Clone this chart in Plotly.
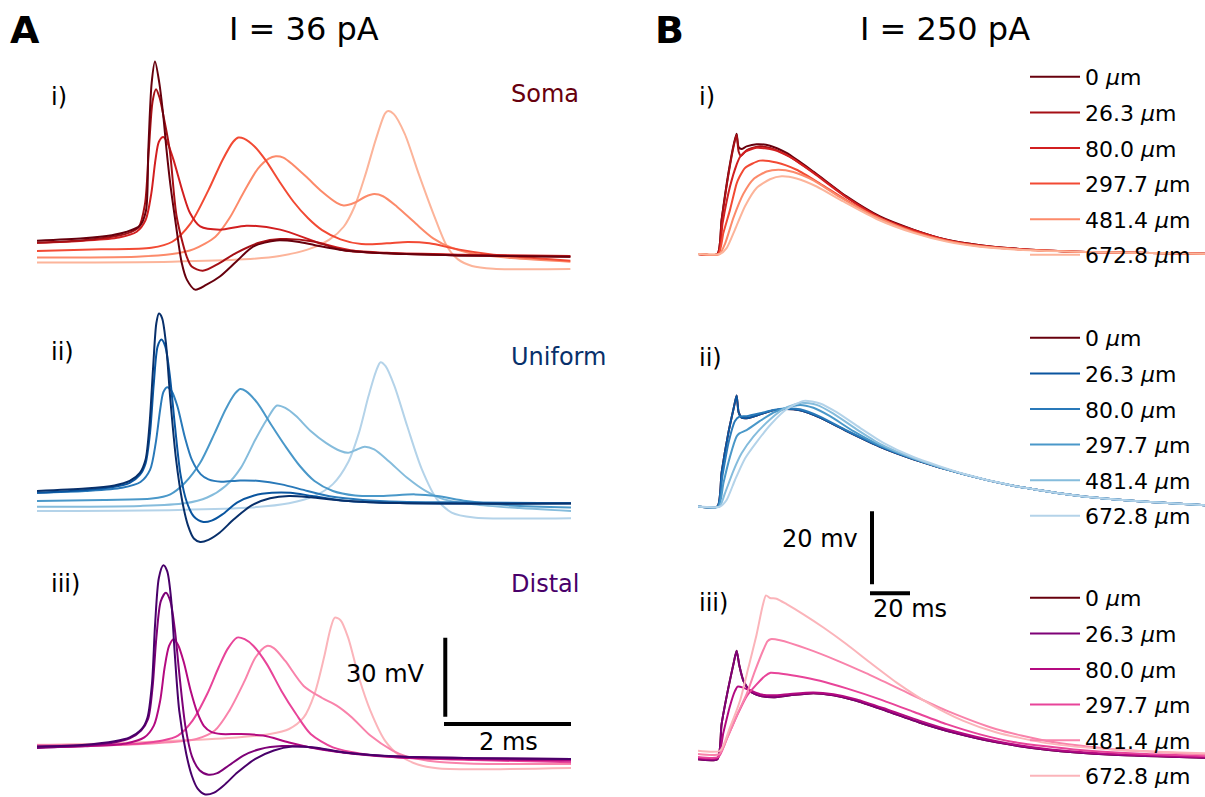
import plotly.graph_objects as go

W, H = 1205, 797
FONT = "DejaVu Sans"

# ---------------- data: I = 36 pA (time in ms, membrane potential in mV) ----------------
soma_t_0 = [0, 0.73, 1.18, 1.40, 1.62, 1.716, 1.753, 1.806, 1.858, 1.926, 1.99, 2.04, 2.10, 2.17, 2.28, 2.36, 2.49, 2.67, 2.88, 3.14, 3.41, 3.77, 4.10, 4.38, 4.83, 5.51, 6.63, 8.40]
soma_v_0 = [-58.9, -58.0, -56.8, -55.6, -53.2, -47.5, -24.4, 1.1, 9.2, 1.1, -11.7, -24.4, -37.5, -49.8, -67.4, -73.7, -77.5, -75.6, -72.5, -66.8, -61.1, -58.8, -59.3, -60.6, -62.5, -63.7, -64.5, -65.0]
soma_t_26 = [0, 0.73, 1.18, 1.40, 1.60, 1.70, 1.76, 1.82, 1.874, 1.93, 2.00, 2.09, 2.20, 2.357, 2.436, 2.61, 2.88, 3.14, 3.51, 3.83, 4.35, 4.83, 5.51, 6.63, 8.40]
soma_v_26 = [-59.7, -58.7, -57.4, -56.3, -53.8, -45.0, -25.0, -6.0, -1.3, -4.5, -12.5, -24.4, -49.8, -64.9, -68.7, -70.3, -67.3, -63.5, -59.6, -58.3, -59.2, -62.5, -63.7, -64.5, -65.0]
soma_t_80 = [0, 0.73, 1.29, 1.57, 1.71, 1.80, 1.865, 1.92, 1.99, 2.06, 2.15, 2.30, 2.41, 2.57, 2.88, 3.30, 3.83, 4.46, 4.94, 5.51, 6.63, 8.40]
soma_v_80 = [-59.7, -58.9, -57.7, -55.5, -51.1, -41.0, -28.3, -21.3, -19.5, -22.0, -28.2, -40.8, -48.4, -53.5, -54.7, -53.2, -54.7, -59.8, -62.5, -63.5, -64.2, -64.7]
soma_t_297 = [0, 1.01, 1.80, 2.13, 2.42, 2.70, 2.92, 3.09, 3.17, 3.26, 3.43, 3.60, 3.82, 4.04, 4.27, 4.49, 4.78, 5.11, 5.51, 5.84, 6.18, 6.63, 7.19, 8.40]
soma_v_297 = [-62.8, -62.2, -61.6, -59.3, -52.3, -39.7, -28.3, -21.3, -19.7, -20.1, -23.2, -28.3, -36.5, -44.1, -50.4, -54.9, -58.4, -60.2, -59.9, -59.4, -59.9, -62.2, -64.2, -66.5]
soma_t_481 = [0, 1.57, 2.13, 2.47, 2.81, 3.03, 3.26, 3.48, 3.65, 3.76, 3.88, 4.04, 4.27, 4.49, 4.72, 4.83, 5.00, 5.17, 5.31, 5.45, 5.67, 5.96, 6.24, 6.52, 6.91, 7.47, 8.40]
soma_v_481 = [-65.3, -65.0, -64.0, -62.1, -57.4, -50.4, -40.3, -31.5, -27.7, -26.8, -27.3, -30.2, -35.3, -40.3, -44.5, -45.5, -44.5, -42.2, -41.2, -42.0, -46.0, -52.3, -58.0, -61.5, -64.0, -65.5, -66.9]
soma_t_672 = [0, 2.13, 3.26, 3.82, 4.27, 4.61, 4.83, 5.00, 5.17, 5.34, 5.48, 5.53, 5.62, 5.79, 6.01, 6.24, 6.46, 6.63, 6.85, 7.19, 7.75, 8.40]
soma_v_672 = [-67.2, -66.9, -66.0, -64.7, -62.2, -58.4, -53.6, -46.0, -34.0, -20.1, -10.6, -9.6, -10.8, -18.2, -33.4, -48.5, -61.2, -66.0, -68.5, -69.6, -69.8, -69.7]

unif_t_0 = [0, 0.76, 1.22, 1.46, 1.62, 1.71, 1.77, 1.83, 1.88, 1.92, 1.97, 2.03, 2.10, 2.19, 2.29, 2.38, 2.47, 2.57, 2.70, 2.88, 3.10, 3.38, 3.67, 3.97, 4.31, 4.84, 5.71, 8.41]
unif_v_0 = [-60.3, -59.4, -58.2, -56.5, -53.4, -48.3, -35.6, -12.8, 3.6, 7.2, 5.5, -4.0, -25.5, -48.3, -64.5, -73.6, -78.4, -79.7, -78.9, -76.1, -71.1, -65.8, -63.1, -62.2, -62.7, -64.0, -64.9, -65.1]
unif_t_26 = [0, 0.76, 1.22, 1.46, 1.62, 1.71, 1.78, 1.84, 1.90, 1.96, 2.02, 2.09, 2.17, 2.26, 2.36, 2.47, 2.62, 2.75, 2.92, 3.15, 3.42, 3.70, 3.99, 4.33, 4.84, 5.71, 8.41]
unif_v_26 = [-61.0, -59.9, -58.7, -57.2, -54.2, -49.8, -38.2, -19.2, -5.3, -2.7, -5.3, -16.0, -35.0, -54.0, -64.6, -70.0, -72.1, -71.6, -69.2, -64.7, -62.0, -61.0, -61.0, -62.2, -64.0, -64.9, -65.0]
unif_t_80 = [0, 0.76, 1.34, 1.63, 1.78, 1.87, 1.94, 1.99, 2.05, 2.12, 2.21, 2.33, 2.44, 2.58, 2.70, 2.90, 3.20, 3.50, 3.85, 4.26, 4.66, 5.13, 5.71, 6.88, 8.41]
unif_v_80 = [-61.0, -60.3, -59.1, -56.9, -52.3, -42.0, -29.3, -22.7, -20.8, -22.3, -28.0, -40.0, -48.5, -54.0, -55.9, -56.8, -56.3, -56.5, -57.8, -60.3, -62.5, -63.7, -64.4, -64.7, -65.0]
unif_t_297 = [0, 1.05, 1.81, 2.10, 2.33, 2.57, 2.80, 2.97, 3.12, 3.20, 3.29, 3.47, 3.67, 3.91, 4.14, 4.37, 4.66, 5.01, 5.42, 5.95, 6.30, 6.76, 7.46, 8.41]
unif_v_297 = [-64.1, -63.7, -63.2, -61.6, -57.2, -49.6, -38.2, -29.3, -23.2, -21.5, -22.3, -26.8, -34.4, -43.2, -50.8, -56.5, -60.3, -62.0, -62.2, -61.6, -62.2, -64.1, -65.8, -66.6]
unif_t_481 = [0, 1.63, 2.33, 2.68, 2.97, 3.21, 3.44, 3.62, 3.78, 3.91, 4.08, 4.31, 4.55, 4.78, 4.90, 5.04, 5.16, 5.31, 5.54, 5.83, 6.12, 6.41, 6.88, 7.46, 8.41]
unif_v_481 = [-66.3, -66.0, -65.0, -62.8, -58.4, -51.5, -40.7, -33.1, -27.8, -28.7, -31.8, -37.5, -42.0, -45.1, -45.8, -44.5, -43.5, -44.5, -49.0, -55.3, -60.3, -63.5, -65.4, -66.6, -67.9]
unif_t_672 = [0, 2.22, 3.38, 3.97, 4.37, 4.66, 4.90, 5.07, 5.22, 5.34, 5.41, 5.49, 5.63, 5.83, 6.06, 6.30, 6.53, 6.88, 7.46, 8.41]
unif_v_672 = [-67.9, -67.5, -66.6, -65.0, -62.2, -57.7, -49.4, -38.2, -24.3, -14.7, -11.3, -12.8, -20.4, -35.6, -52.0, -63.5, -68.5, -70.4, -70.8, -70.7]

dist_t_0 = [0, 0.76, 1.22, 1.46, 1.65, 1.74, 1.81, 1.86, 1.92, 1.99, 2.05, 2.11, 2.17, 2.24, 2.35, 2.44, 2.53, 2.65, 2.79, 2.94, 3.16, 3.44, 3.73, 4.02, 4.37, 4.84, 5.71, 6.88, 8.41]
dist_v_0 = [-60.3, -59.6, -58.3, -56.8, -53.6, -49.2, -36.5, -13.7, 4.0, 8.7, 6.5, -3.6, -25.1, -46.6, -63.0, -71.5, -76.3, -78.5, -77.8, -75.1, -70.1, -65.0, -61.8, -60.3, -60.6, -62.5, -64.1, -64.7, -65.0]
dist_t_26 = [0, 0.76, 1.22, 1.46, 1.64, 1.75, 1.82, 1.88, 1.95, 2.03, 2.10, 2.17, 2.25, 2.34, 2.44, 2.56, 2.70, 2.84, 3.02, 3.25, 3.52, 3.86, 4.20, 4.84, 5.71, 6.88, 8.41]
dist_v_26 = [-60.8, -59.9, -58.7, -57.2, -54.2, -49.8, -37.8, -18.8, -4.9, -1.7, -4.9, -15.6, -34.6, -53.0, -64.0, -69.3, -71.0, -70.4, -67.5, -63.7, -61.2, -60.1, -60.3, -62.5, -64.1, -64.7, -65.0]
dist_t_80 = [0, 0.76, 1.40, 1.69, 1.84, 1.94, 2.01, 2.08, 2.15, 2.22, 2.31, 2.42, 2.52, 2.63, 2.75, 2.90, 3.20, 3.56, 3.97, 4.43, 5.01, 5.71, 6.88, 8.41]
dist_v_80 = [-60.6, -60.2, -59.1, -56.8, -52.3, -42.8, -30.2, -22.0, -19.4, -21.5, -28.0, -39.0, -47.0, -52.5, -54.8, -55.5, -55.5, -56.1, -58.7, -61.2, -63.1, -64.4, -65.1, -65.6]
dist_t_297 = [0, 1.05, 1.63, 1.98, 2.22, 2.45, 2.68, 2.86, 3.00, 3.15, 3.27, 3.41, 3.62, 3.85, 4.08, 4.31, 4.66, 5.13, 5.71, 6.88, 8.41]
dist_v_297 = [-59.9, -59.6, -59.1, -58.0, -56.1, -50.4, -40.3, -30.2, -23.2, -18.8, -19.4, -22.0, -28.9, -39.1, -47.9, -55.5, -60.6, -63.1, -64.4, -65.4, -66.3]
dist_t_481 = [0, 1.92, 2.51, 2.80, 3.03, 3.27, 3.44, 3.62, 3.73, 3.91, 4.20, 4.49, 4.72, 4.96, 5.25, 5.60, 5.83, 6.30, 6.88, 8.41]
dist_v_481 = [-60.6, -58.9, -57.4, -54.2, -46.6, -35.3, -26.4, -22.0, -22.8, -27.7, -37.2, -41.8, -44.7, -49.2, -56.1, -61.8, -64.1, -66.1, -66.8, -66.9]
dist_t_672 = [0, 1.05, 2.22, 3.15, 3.67, 3.97, 4.20, 4.37, 4.52, 4.62, 4.69, 4.78, 4.90, 5.07, 5.25, 5.48, 5.71, 6.01, 6.30, 6.88, 8.41]
dist_v_672 = [-59.6, -59.1, -58.0, -56.8, -55.5, -53.6, -49.2, -40.3, -26.4, -15.6, -11.2, -12.2, -18.8, -34.0, -46.6, -58.0, -63.7, -67.2, -68.5, -68.9, -68.4]

# ---------------- data: I = 250 pA ----------------
r1_t_0 = [0, 9.7, 11.8, 15.2, 18.0, 19.3, 20.3, 21.8, 24.3, 29.3, 36.0, 44.3, 57.7, 74.3, 91.0, 107.7, 124.3, 141.0, 166.0, 199.3, 253.5]
r1_v_0 = [-65, -65, -55.6, -42.8, -34.6, -32.0, -35.7, -36.2, -35.5, -34.9, -35.3, -37.3, -42.4, -49.2, -54.7, -58.3, -61.1, -62.6, -63.8, -64.5, -64.9]
r1_t_26 = [0, 9.7, 11.8, 15.2, 18.0, 19.3, 20.3, 21.5, 24.3, 30.2, 36.0, 44.3, 57.7, 74.3, 91.0, 107.7, 124.3, 141.0, 166.0, 199.3, 253.5]
r1_v_26 = [-65, -65, -55.8, -43.3, -35.0, -32.3, -36.9, -38.1, -36.6, -35.5, -35.9, -37.8, -42.6, -49.4, -54.9, -58.4, -61.1, -62.6, -63.8, -64.5, -64.9]
r1_t_80 = [0, 10.0, 12.3, 16.0, 19.3, 21.0, 23.5, 29.3, 37.7, 46.0, 57.7, 74.3, 91.0, 107.7, 124.3, 141.0, 166.0, 199.3, 253.5]
r1_v_80 = [-65, -65, -56.5, -46.5, -40.5, -38.4, -37.0, -35.9, -36.4, -38.4, -42.8, -49.5, -55.0, -58.5, -61.2, -62.7, -63.8, -64.5, -64.9]
r1_t_297 = [0, 10.2, 12.7, 16.0, 19.3, 20.7, 23.5, 31.0, 39.3, 49.3, 61.0, 74.3, 91.0, 107.7, 124.3, 141.0, 166.0, 199.3, 253.5]
r1_v_297 = [-65, -65, -59.2, -52.9, -45.7, -43.9, -41.4, -39.4, -39.9, -41.9, -45.7, -50.3, -55.3, -58.8, -61.3, -62.8, -63.9, -64.5, -64.9]
r1_t_481 = [0, 10.7, 13.5, 17.7, 22.7, 27.7, 34.3, 40.2, 47.7, 57.7, 71.0, 87.7, 107.7, 124.3, 141.0, 166.0, 199.3, 253.5]
r1_v_481 = [-65, -65, -62.2, -55.1, -48.5, -44.5, -42.4, -41.9, -42.5, -44.8, -49.4, -54.5, -59.0, -61.4, -62.9, -63.9, -64.5, -64.9]
r1_t_672 = [0, 11.0, 14.3, 18.5, 23.5, 29.3, 36.0, 41.8, 49.3, 59.3, 72.7, 89.3, 107.7, 124.3, 141.0, 166.0, 199.3, 253.5]
r1_v_672 = [-65, -65, -63.4, -58.3, -51.9, -46.9, -44.5, -43.7, -44.3, -46.5, -50.6, -55.4, -59.2, -61.6, -63.0, -64.0, -64.5, -64.9]

r2_t_26 = [0, 9.7, 11.8, 15.2, 18.0, 19.3, 20.3, 21.8, 25.2, 31.0, 37.7, 43.5, 51.0, 61.0, 74.3, 91.0, 107.7, 132.7, 157.7, 191.0, 224.3, 253.5]
r2_v_26 = [-65, -65, -55.7, -44.7, -37.6, -34.5, -39.1, -40.6, -40.7, -39.7, -38.6, -38.2, -38.6, -40.6, -44.3, -48.6, -52.0, -56.1, -59.3, -62.1, -63.7, -64.6]
r2_t_80 = [0, 9.8, 12.2, 15.2, 18.5, 20.7, 24.3, 31.0, 37.7, 43.5, 51.0, 61.0, 74.3, 91.0, 107.7, 132.7, 157.7, 191.0, 224.3, 253.5]
r2_v_80 = [-65, -65, -56.6, -47.6, -41.5, -40.3, -40.2, -39.4, -38.5, -38.1, -38.3, -40.3, -44.1, -48.4, -51.9, -56.1, -59.3, -62.1, -63.7, -64.6]
r2_t_297 = [0, 10.2, 12.7, 16.0, 19.3, 20.7, 24.3, 31.0, 37.7, 43.5, 51.0, 57.7, 66.0, 77.7, 91.0, 107.7, 132.7, 157.7, 191.0, 224.3, 253.5]
r2_v_297 = [-65, -65, -58.6, -51.3, -45.8, -44.9, -44.0, -41.5, -39.2, -38.0, -37.1, -37.9, -40.2, -44.3, -48.2, -51.8, -56.1, -59.3, -62.1, -63.7, -64.6]
r2_t_481 = [0, 10.7, 13.5, 17.7, 21.8, 27.7, 36.0, 43.5, 51.8, 59.3, 67.7, 79.3, 91.0, 107.7, 132.7, 157.7, 191.0, 224.3, 253.5]
r2_v_481 = [-65, -65, -61.3, -55.2, -50.4, -45.8, -41.1, -38.0, -36.5, -37.1, -39.5, -43.8, -47.8, -51.7, -56.1, -59.3, -62.1, -63.7, -64.6]
r2_t_672 = [0, 11.0, 14.3, 18.5, 23.5, 29.3, 36.8, 44.3, 53.0, 61.0, 69.3, 81.0, 92.7, 107.7, 132.7, 157.7, 191.0, 224.3, 253.5]
r2_v_672 = [-65, -65, -63.2, -57.7, -51.8, -47.3, -42.2, -38.3, -36.0, -36.7, -39.1, -43.4, -47.5, -51.4, -56.0, -59.3, -62.1, -63.7, -64.6]

r3_t_26 = [0, 9.7, 11.8, 15.2, 17.7, 19.3, 20.7, 22.7, 26.0, 31.0, 37.7, 46.0, 57.7, 67.7, 79.3, 94.3, 111.0, 127.7, 149.3, 174.3, 207.7, 253.5]
r3_v_26 = [-65, -65, -55.4, -45.4, -39.0, -35.3, -39.4, -43.5, -46.3, -47.6, -48.0, -47.5, -46.9, -47.5, -49.0, -51.8, -55.0, -57.7, -60.4, -62.4, -63.8, -64.6]
r3_t_80 = [0, 9.8, 12.7, 16.0, 18.5, 19.8, 22.7, 26.0, 31.0, 37.7, 46.0, 57.7, 67.7, 79.3, 94.3, 111.0, 127.7, 149.3, 174.3, 207.7, 253.5]
r3_v_80 = [-64.7, -64.7, -57.7, -50.4, -46.3, -45.1, -45.4, -46.1, -47.2, -47.5, -47.1, -46.7, -47.2, -48.6, -51.3, -54.5, -57.3, -60.1, -62.2, -63.6, -64.5]
r3_t_297 = [0, 10.2, 14.3, 19.3, 24.3, 29.3, 33.5, 36.3, 41.0, 49.3, 61.0, 74.3, 91.0, 107.7, 124.3, 141.0, 157.7, 191.0, 224.3, 253.5]
r3_v_297 = [-64.4, -64.4, -59.5, -53.3, -47.8, -44.5, -42.2, -41.3, -41.5, -42.2, -43.5, -45.6, -48.6, -52.0, -55.4, -58.2, -60.3, -62.5, -63.6, -64.1]
r3_t_481 = [0, 10.7, 15.2, 20.2, 24.3, 28.5, 32.7, 34.7, 36.3, 41.0, 54.3, 69.3, 84.3, 104.3, 124.3, 149.3, 174.3, 207.7, 253.5]
r3_v_481 = [-63.6, -63.6, -58.4, -52.0, -47.2, -40.8, -35.0, -32.7, -32.1, -32.4, -34.7, -37.9, -41.5, -46.7, -51.7, -56.8, -60.0, -62.3, -63.7]
r3_t_672 = [0, 11.0, 16.0, 21.0, 25.2, 29.3, 32.3, 34.0, 36.0, 39.3, 44.3, 52.7, 62.7, 74.3, 86.0, 99.3, 116.0, 132.7, 149.3, 174.3, 207.7, 253.5]
r3_v_672 = [-62.7, -62.7, -56.3, -49.0, -39.9, -30.8, -23.0, -20.1, -20.8, -21.0, -22.5, -25.3, -28.9, -33.5, -38.5, -44.0, -49.9, -54.5, -57.7, -60.6, -62.4, -63.4]

distances = ["0", "26.3", "80.0", "297.7", "481.4", "672.8"]

reds = ["#67000d", "#a50f15", "#d21f20", "#f24a34", "#fc8a6a", "#fcb49a"]
blues = ["#08306b", "#0a559f", "#2979b9", "#4a98c9", "#85bcdc", "#b4d3e9"]
rdpu = ["#49006a", "#7e0177", "#b40a80", "#e84499", "#f983ab", "#fbb4ba"]
legend_first = "#67000d"

# scale bars (data units)
bar_a = dict(t0=6.41, v0=-51.7, dt=2.0, dv=30.0, tv=6.43, vv0=-48.9)
bar_b = dict(th0=86.0, vh=-88.8, dt=20.0, tv=87.0, vv0=-86.3, dv=20.0)

# ---------------- figure ----------------
fig = go.Figure()

def add(t, v, color, xa, ya, name=None, legend=None, group=None, smooth=0.8):
    fig.add_trace(go.Scatter(
        x=t, y=v, mode="lines", xaxis=xa, yaxis=ya,
        line=dict(color=color, width=2, shape="spline", smoothing=smooth),
        name=name if name else "", showlegend=legend is not None,
        legend=legend if legend else "legend", legendgroup=group,
        hoverinfo="skip"))

left_sets = [
    ("x", "y", reds, [(soma_t_0, soma_v_0), (soma_t_26, soma_v_26), (soma_t_80, soma_v_80),
                      (soma_t_297, soma_v_297), (soma_t_481, soma_v_481), (soma_t_672, soma_v_672)]),
    ("x3", "y3", blues, [(unif_t_0, unif_v_0), (unif_t_26, unif_v_26), (unif_t_80, unif_v_80),
                         (unif_t_297, unif_v_297), (unif_t_481, unif_v_481), (unif_t_672, unif_v_672)]),
    ("x5", "y5", rdpu, [(dist_t_0, dist_v_0), (dist_t_26, dist_v_26), (dist_t_80, dist_v_80),
                        (dist_t_297, dist_v_297), (dist_t_481, dist_v_481), (dist_t_672, dist_v_672)]),
]
for xa, ya, cols, series in left_sets:
    for i in reversed(range(6)):
        add(series[i][0], series[i][1], cols[i], xa, ya)

right_sets = [
    ("x2", "y2", "legend", reds, [(r1_t_0, r1_v_0), (r1_t_26, r1_v_26), (r1_t_80, r1_v_80),
                                  (r1_t_297, r1_v_297), (r1_t_481, r1_v_481), (r1_t_672, r1_v_672)]),
    ("x4", "y4", "legend2", [legend_first] + blues[1:], [(r2_t_26, r2_v_26), (r2_t_26, r2_v_26), (r2_t_80, r2_v_80),
                                                         (r2_t_297, r2_v_297), (r2_t_481, r2_v_481), (r2_t_672, r2_v_672)]),
    ("x6", "y6", "legend3", [legend_first] + rdpu[1:], [(r3_t_26, r3_v_26), (r3_t_26, r3_v_26), (r3_t_80, r3_v_80),
                                                        (r3_t_297, r3_v_297), (r3_t_481, r3_v_481), (r3_t_672, r3_v_672)]),
]
for xa, ya, lg, cols, series in right_sets:
    for i in range(6):
        add(series[i][0], series[i][1], cols[i], xa, ya,
            name=f"{distances[i]} <i>μ</i>m", legend=lg, group=f"{lg}_{i}", smooth=0.6)

def bar(xs, ys, xa, ya):
    fig.add_trace(go.Scatter(x=xs, y=ys, mode="lines", line=dict(color="black", width=4),
                             xaxis=xa, yaxis=ya, showlegend=False, hoverinfo="skip"))

bar([bar_a["t0"], bar_a["t0"] + bar_a["dt"]], [bar_a["v0"], bar_a["v0"]], "x5", "y5")
bar([bar_a["tv"], bar_a["tv"]], [bar_a["vv0"], bar_a["vv0"] + bar_a["dv"]], "x5", "y5")
bar([bar_b["th0"], bar_b["th0"] + bar_b["dt"]], [bar_b["vh"], bar_b["vh"]], "x4", "y4")
bar([bar_b["tv"], bar_b["tv"]], [bar_b["vv0"], bar_b["vv0"] + bar_b["dv"]], "x4", "y4")

def pxx(p):
    return p / W

def pyy(p):
    return 1 - p / H

LEFT = [pxx(37), pxx(571)]
RIGHT = [pxx(698), 1.0]
ax = dict(visible=False, showgrid=False, zeroline=False, fixedrange=True)

fig.update_layout(
    width=W, height=H, margin=dict(l=0, r=0, t=0, b=0),
    paper_bgcolor="white", plot_bgcolor="rgba(0,0,0,0)",
    font=dict(family=FONT, size=24, color="black"),
    xaxis=dict(domain=LEFT, range=[0, 8.41], anchor="y", **ax),
    yaxis=dict(domain=[pyy(300), pyy(50)], range=[-81.3, 13.6], anchor="x", **ax),
    xaxis2=dict(domain=RIGHT, range=[0, 253.5], anchor="y2", **ax),
    yaxis2=dict(domain=[pyy(300), pyy(60)], range=[-77.5, -11.8], anchor="x2", **ax),
    xaxis3=dict(domain=LEFT, range=[0, 8.41], anchor="y3", **ax),
    yaxis3=dict(domain=[pyy(555), pyy(305)], range=[-84.4, 10.6], anchor="x3", **ax),
    xaxis4=dict(domain=RIGHT, range=[0, 253.5], anchor="y4", **ax),
    yaxis4=dict(domain=[pyy(620), pyy(320)], range=[-95.9, -13.7], anchor="x4", **ax),
    xaxis5=dict(domain=LEFT, range=[0, 8.41], anchor="y5", **ax),
    yaxis5=dict(domain=[pyy(797), pyy(555)], range=[-79.1, 12.9], anchor="x5", **ax),
    xaxis6=dict(domain=RIGHT, range=[0, 253.5], anchor="y6", **ax),
    yaxis6=dict(domain=[pyy(797), pyy(560)], range=[-75.1, -10.2], anchor="x6", **ax),
    showlegend=True,
)

leg_common = dict(xanchor="left", yanchor="top", bgcolor="rgba(0,0,0,0)",
                  font=dict(family=FONT, size=22, color="black"),
                  traceorder="grouped", tracegroupgap=4, itemwidth=50)
fig.update_layout(
    legend=dict(x=pxx(1025), y=pyy(56), **leg_common),
    legend2=dict(x=pxx(1025), y=pyy(317), **leg_common),
    legend3=dict(x=pxx(1025), y=pyy(578), **leg_common),
)

def note(text, x, y, xanchor="left", size=24, color="black"):
    fig.add_annotation(text=text, x=pxx(x), y=pyy(y), xref="paper", yref="paper",
                       xanchor=xanchor, yanchor="middle", showarrow=False,
                       font=dict(family=FONT, size=size, color=color))

note("<b>A</b>", 8, 30, size=38)
note("<b>B</b>", 653, 30, size=38)
note("I = 36 pA", 304, 29, xanchor="center", size=32)
note("I = 250 pA", 945, 29, xanchor="center", size=32)
note("i)", 49, 97)
note("ii)", 49, 352)
note("iii)", 49, 585)
note("i)", 697, 97)
note("ii)", 697, 358)
note("iii)", 697, 604)
note("Soma", 509, 94, color=reds[0])
note("Uniform", 509, 357, color=blues[0])
note("Distal", 509, 585, color=rdpu[0])
note("30 mV", 427, 675, xanchor="right")
note("2 ms", 508, 743, xanchor="center")
note("20 mv", 860, 540, xanchor="right")
note("20 ms", 871, 610)

fig.write_html("out.html")
